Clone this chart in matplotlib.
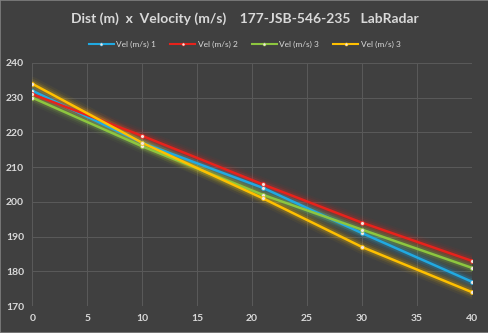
import matplotlib
matplotlib.use("Agg")
import matplotlib.pyplot as plt
from matplotlib.lines import Line2D

# distance (m) and velocity (m/s) for each shot
dist = [0, 10, 21, 30, 40]
vel_1 = [232, 217, 204, 191, 177]
vel_2 = [231, 219, 205, 194, 183]
vel_3 = [230, 216, 202, 192, 181]
vel_4 = [234, 217, 201, 187, 174]

labels = ["Vel (m/s) 1", "Vel (m/s) 2", "Vel (m/s) 3", "Vel (m/s) 3"]
colors = ["#21a9e1", "#e8221b", "#8dc63f", "#ffc000"]
series = [vel_1, vel_2, vel_3, vel_4]

bg = "#404040"
text_col = "#d9d9d9"
plt.rcParams["font.family"] = ["Lato", "DejaVu Sans"]

fig = plt.figure(figsize=(4.89, 3.33), dpi=100, facecolor=bg)
ax = fig.add_axes([0.066, 0.081, 0.899, 0.730], facecolor=bg)

for y, c in zip(series, colors):
    # soft glow under each line
    for w, a in [(10, 0.05), (7, 0.09), (4.5, 0.18)]:
        ax.plot(dist, y, color=c, lw=w, alpha=a, solid_capstyle="round", zorder=2)
    ax.plot(dist, y, color=c, lw=1.8, zorder=3)
    ax.plot(dist, y, ls="none", marker="o", ms=2.8, mfc="#f2e6e0", mec=c,
            mew=0.5, zorder=4)

ax.set_xlim(0, 40)
ax.set_ylim(170, 240)
ax.set_xticks(range(0, 41, 5))
ax.set_yticks(range(170, 241, 10))
ax.grid(color="#5a5a5a", lw=0.7)
ax.set_axisbelow(True)
for s in ax.spines.values():
    s.set_visible(False)
ax.tick_params(length=0, colors=text_col, labelsize=7.5, pad=6)
for t in ax.get_xticklabels() + ax.get_yticklabels():
    t.set_fontweight("bold")

fig.text(0.5, 0.945, "Dist (m)  x  Velocity (m/s)    177-JSB-546-235   LabRadar",
         ha="center", va="center", color=text_col, fontsize=10, fontweight="bold")

handles = [Line2D([0], [0], color=c, lw=1.5, marker="o", ms=2.2,
                  mfc="#f2e6e0", mec=c, mew=0.4) for c in colors]
leg = fig.legend(handles, labels, loc="center", bbox_to_anchor=(0.5, 0.867),
                 ncol=4, frameon=False, fontsize=6, labelcolor=text_col,
                 handlelength=3.0, handletextpad=0.3, columnspacing=1.7)

# thin outer frame
fig.patches.append(plt.Rectangle((0, 0), 1, 1, transform=fig.transFigure,
                                 fill=False, ec="#808080", lw=1.2))

fig.savefig("out.png", dpi=100, facecolor=bg)
